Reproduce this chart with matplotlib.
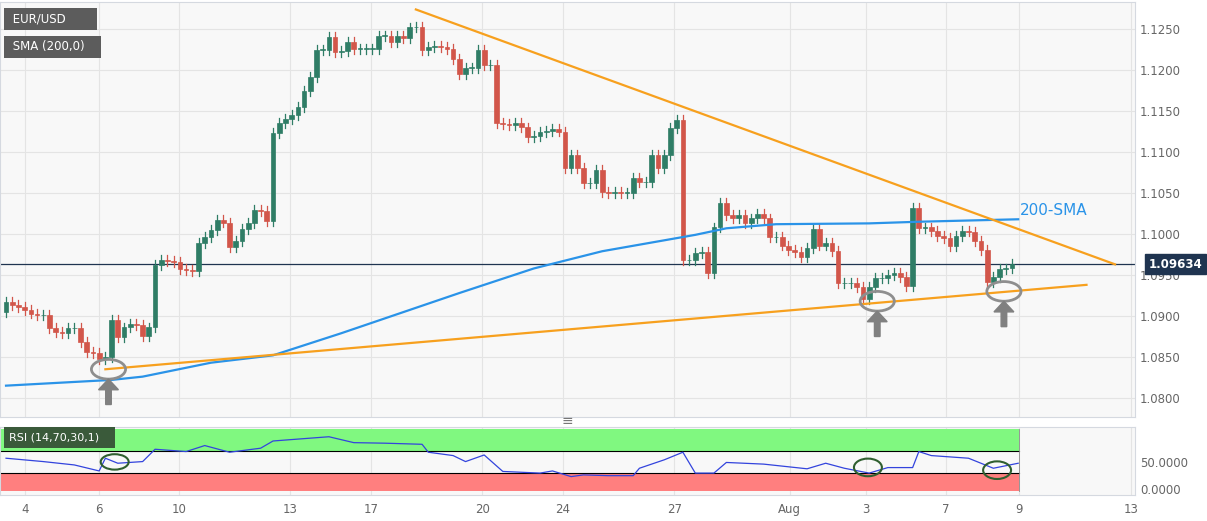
import matplotlib
matplotlib.use("Agg")
import matplotlib.pyplot as plt
from matplotlib.patches import Ellipse, FancyArrow, Rectangle

GREEN = "#2f7d66"
RED = "#d2564a"
ORANGE = "#f7a01e"
BLUE = "#2a93e8"
NAVY = "#1f3450"

closes = [
    1.0917, 1.0913, 1.0911, 1.0907, 1.0903, 1.0901, 1.0901, 1.0885, 1.0880, 1.0879,
    1.0885, 1.0885, 1.0868, 1.0856, 1.0855, 1.0848, 1.0850, 1.0895, 1.0874, 1.0886,
    1.0890, 1.0889, 1.0876, 1.0886, 1.0962, 1.0968, 1.0967, 1.0966, 1.0957, 1.0956,
    1.0955, 1.0989, 1.0996, 1.1005, 1.1017, 1.1014, 1.0984, 1.0991, 1.1006, 1.1013,
    1.1029, 1.1028, 1.1016, 1.1123, 1.1135, 1.1140, 1.1145, 1.1155, 1.1175, 1.1192,
    1.1225, 1.1225, 1.1241, 1.1222, 1.1223, 1.1234, 1.1226, 1.1226, 1.1226, 1.1226,
    1.1242, 1.1242, 1.1234, 1.1242, 1.1239, 1.1252, 1.1253, 1.1224, 1.1228, 1.1229,
    1.1228, 1.1226, 1.1214, 1.1195, 1.1203, 1.1203, 1.1225, 1.1206, 1.1206, 1.1135,
    1.1134, 1.1133, 1.1135, 1.1130, 1.1118, 1.1120, 1.1124, 1.1126, 1.1128, 1.1125,
    1.1081, 1.1096, 1.1081, 1.1062, 1.1062, 1.1078, 1.1051, 1.1050, 1.1051, 1.1050,
    1.1050, 1.1068, 1.1063, 1.1063, 1.1096, 1.1080, 1.1096, 1.1129, 1.1139, 1.0968,
    1.0968, 1.0977, 1.0978, 1.0952, 1.1008, 1.1038, 1.1023, 1.1019, 1.1023, 1.1013,
    1.1019, 1.1025, 1.1019, 1.0996, 1.0996, 1.0986, 1.0981, 1.0978, 1.0972, 1.0983,
    1.1006, 1.0986, 1.0989, 1.0979, 1.0940, 1.0940, 1.0940, 1.0935, 1.0921, 1.0935,
    1.0946, 1.0946, 1.0950, 1.0952, 1.0948, 1.0937, 1.1032, 1.1007, 1.1008, 1.1004,
    1.0998, 1.0995, 1.0985, 1.0998, 1.1004, 1.1003, 1.0992, 1.0981, 1.0941, 1.0948,
    1.0957, 1.0958, 1.0963,
]
first_open = 1.0905
last_price = 1.09634

sma_idx = [0, 17, 22, 33, 43, 54, 73, 85, 96, 111, 116, 124, 139, 147, 163]
sma_val = [1.0815, 1.0822, 1.0826, 1.0843, 1.0852, 1.0879, 1.0928, 1.0958, 1.0979,
           1.0999, 1.1007, 1.1012, 1.1013, 1.1015, 1.1018]

upper_line = ([66, 178.6], [1.1274, 1.0963])
lower_line = ([16, 174], [1.0835, 1.0938])

rsi_idx = [0, 6, 11, 15, 16, 18, 22, 24, 29, 32, 36, 41, 43, 50, 52, 56, 61, 67, 68, 72,
           74, 77, 80, 86, 88, 91, 93, 97, 101, 102, 106, 109, 111, 114, 116, 122, 129,
           132, 135, 139, 142, 146, 147, 149, 155, 159, 163]
rsi_val = [56.7, 50.6, 44.5, 33.6, 56.7, 47.6, 50.6, 73, 68.8, 79.7, 67.6, 74.9, 88, 94,
           95.7, 85, 84, 82, 67.6, 61.5, 50.6, 62.6, 32.7, 29.7, 33.6, 23.3, 26.4, 25, 25,
           38.5, 53.8, 67.6, 29.7, 29.7, 49, 46, 37.5, 47.6, 38.5, 29.7, 39.7, 39.7, 68.8,
           61.5, 56.7, 38.5, 47.6]

tick_pos = [3.1, 15.0, 27.9, 45.7, 58.8, 76.7, 89.7, 107.6, 126.2, 138.5, 151.4, 163.1, 181.2]
tick_lab = ["4", "6", "10", "13", "17", "20", "24", "27", "Aug", "3", "7", "9", "13"]
price_ticks = [1.0800, 1.0850, 1.0900, 1.0950, 1.1000, 1.1050, 1.1100, 1.1150, 1.1200, 1.1250]

# support touches / RSI dips that get circled
touch_pts = [(16.5, 1.0835), (140.3, 1.0918), (160.7, 1.0930)]
rsi_circles = [(17.5, 50), (138.8, 40), (159.6, 35)]

XMIN, XMAX = -0.97, 181.8

fig = plt.figure(figsize=(12.07, 5.21), dpi=100)
fig.patch.set_facecolor("white")
ax = fig.add_axes([0.0, 0.2, 0.9403, 0.796])
rx = fig.add_axes([0.0, 0.05, 0.9403, 0.13])

for a in (ax, rx):
    a.set_facecolor("#f8f8f8")
    a.set_xlim(XMIN, XMAX)
    for s in a.spines.values():
        s.set_color("#d5d9e0")
    a.set_xticks(tick_pos)
    a.grid(True, color="#e4e4e4", linewidth=0.8)
    a.set_axisbelow(True)
    a.yaxis.tick_right()
    a.tick_params(length=0, labelsize=8.5, colors="#666666")

ax.set_ylim(1.0777, 1.1283)
ax.set_yticks(price_ticks)
ax.set_yticklabels([f"{p:.4f}" for p in price_ticks])
ax.set_xticklabels([])

# candles
opens = [first_open] + closes[:-1]
for i, (o, c) in enumerate(zip(opens, closes)):
    col = GREEN if c >= o else RED
    hi = max(o, c) + 0.0006
    lo = min(o, c) - 0.0006
    ax.plot([i, i], [lo, hi], color=col, linewidth=0.9, zorder=3)
    ax.add_patch(Rectangle((i - 0.38, min(o, c)), 0.76, max(abs(c - o), 0.00008),
                           facecolor=col, edgecolor=col, linewidth=0.5, zorder=4))

ax.plot(sma_idx, sma_val, color=BLUE, linewidth=1.6, zorder=5)
ax.plot(*upper_line, color=ORANGE, linewidth=1.6, zorder=5)
ax.plot(*lower_line, color=ORANGE, linewidth=1.6, zorder=5)
ax.axhline(last_price, color=NAVY, linewidth=0.9, zorder=2)
ax.text(163.3, 1.1020, "200-SMA", color=BLUE, fontsize=11, va="bottom")

for x, y in touch_pts:
    ax.add_patch(Ellipse((x, y), 5.5, 0.0024, fill=False, edgecolor="#8e8e8e", linewidth=2, zorder=6))
    ax.add_patch(FancyArrow(x, y - 0.0043, 0, 0.0018, width=0.9, head_width=3.2,
                            head_length=0.0013, color="#808080", zorder=6))

ax.text(1.012, last_price, "1.09634", transform=ax.get_yaxis_transform(), fontsize=8.5,
        fontweight="bold", color="white", va="center", ha="left",
        bbox=dict(boxstyle="square,pad=0.3", facecolor=NAVY, edgecolor=NAVY), clip_on=False)

ax.text(0.008, 0.975, " EUR/USD       ", transform=ax.transAxes, fontsize=8.5, color="white",
        va="top", bbox=dict(boxstyle="square,pad=0.4", facecolor="#5c5c5c", edgecolor="none"))
ax.text(0.008, 0.908, " SMA (200,0)   ", transform=ax.transAxes, fontsize=8.5, color="white",
        va="top", bbox=dict(boxstyle="square,pad=0.4", facecolor="#5c5c5c", edgecolor="none"))

# RSI panel
rx.set_ylim(-10, 113)
rx.set_yticks([0, 50])
rx.set_yticklabels(["0.0000", "50.0000"])
rx.set_xticklabels(tick_lab)
rx.tick_params(axis="x", labelsize=8.5, pad=6)
rx.grid(axis="y", visible=False)
rx.add_patch(Rectangle((XMIN, 70), 163.1 - XMIN, 40, facecolor="#80f880", edgecolor="none", zorder=1))
rx.add_patch(Rectangle((XMIN, -3), 163.1 - XMIN, 33, facecolor="#ff7f7f", edgecolor="none", zorder=1))
rx.plot([XMIN, 163.1], [70, 70], color="black", linewidth=0.8, zorder=2)
rx.plot([XMIN, 163.1], [30, 30], color="black", linewidth=0.8, zorder=2)
rx.plot([163.1, 163.1], [-3, 110], color="#888888", linewidth=0.6, zorder=2)
rx.plot(rsi_idx, rsi_val, color="#3344dd", linewidth=0.9, zorder=3)
for x, y in rsi_circles:
    rx.add_patch(Ellipse((x, y), 4.5, 32 if y < 45 else 28, fill=False, edgecolor="#2f5f2f",
                         linewidth=1.5, zorder=4))
rx.text(0.008, 0.92, "RSI (14,70,30,1)   ", transform=rx.transAxes, fontsize=8, color="white",
        va="top", bbox=dict(boxstyle="square,pad=0.5", facecolor="#3a5a3a", edgecolor="none"))

fig.text(567 / 1207, 1 - 421 / 521, "≡", fontsize=10, color="#777777", ha="center", va="center")

fig.savefig("out.png", dpi=100)
